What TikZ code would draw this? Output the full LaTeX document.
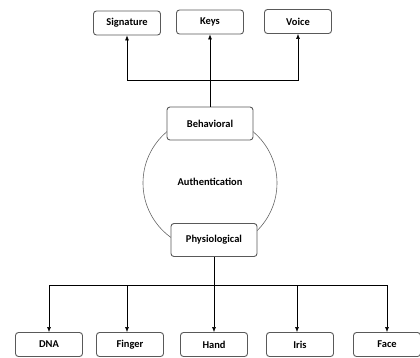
\documentclass[tikz,border=0pt]{standalone}
\usepackage{fontspec}
\setmainfont{Carlito}
\usetikzlibrary{arrows.meta}

\tikzset{
  item/.style={draw=black!65, line width=0.9pt, rounded corners=3pt, fill=white,
    minimum width=67bp, minimum height=24bp, font=\fontsize{10.5}{12}\selectfont\bfseries, inner sep=1pt},
  kind/.style={item, minimum width=86bp, minimum height=33bp},
  arr/.style={-{Latex[length=5pt,width=4pt]}, line width=0.6pt}
}

\begin{document}
\begin{tikzpicture}[x=1bp, y=-1bp]
  \useasboundingbox (0,0) rectangle (420,358);
  \draw[black!60, line width=0.6pt] (210,183) circle (67bp);
  \node[font=\fontsize{10.5}{12}\selectfont\bfseries] (auth) at (210,182) {Authentication};
  \node[kind] (beh) at (210,123.5) {Behavioral};
  \node[kind] (phy) at (214,240) {Physiological};
  \node[item] (sig) at (127,23) {Signature};
  \node[item] (keys) at (210,22) {Keys};
  \node[item] (voice) at (298,21.5) {Voice};
  \foreach \n/\x/\t in {dna/49/DNA, fin/130/Finger, hand/214/Hand, iris/300/Iris, face/387/Face}
    \node[item] (\n) at (\x,344.5) {\t};
  % upper branch
  \coordinate (up) at (beh.north |- 0,80);
  \draw[line width=0.6pt] (beh.north) -- (up);
  \draw[arr] (up) -| (sig.south);
  \draw[arr] (up) -- (keys.south);
  \draw[arr] (up) -| (voice.south);
  % lower branch
  \coordinate (down) at (phy.south |- 0,285);
  \draw[line width=0.6pt] (phy.south) -- (down);
  \draw[arr] (down) -| (dna.north);
  \draw[arr] (down) -| ([xshift=-3bp]fin.north);
  \draw[arr] (down) -- (hand.north);
  \draw[arr] (down) -| ([xshift=-3bp]iris.north);
  \draw[arr] (down) -| (face.north);
\end{tikzpicture}
\end{document}
